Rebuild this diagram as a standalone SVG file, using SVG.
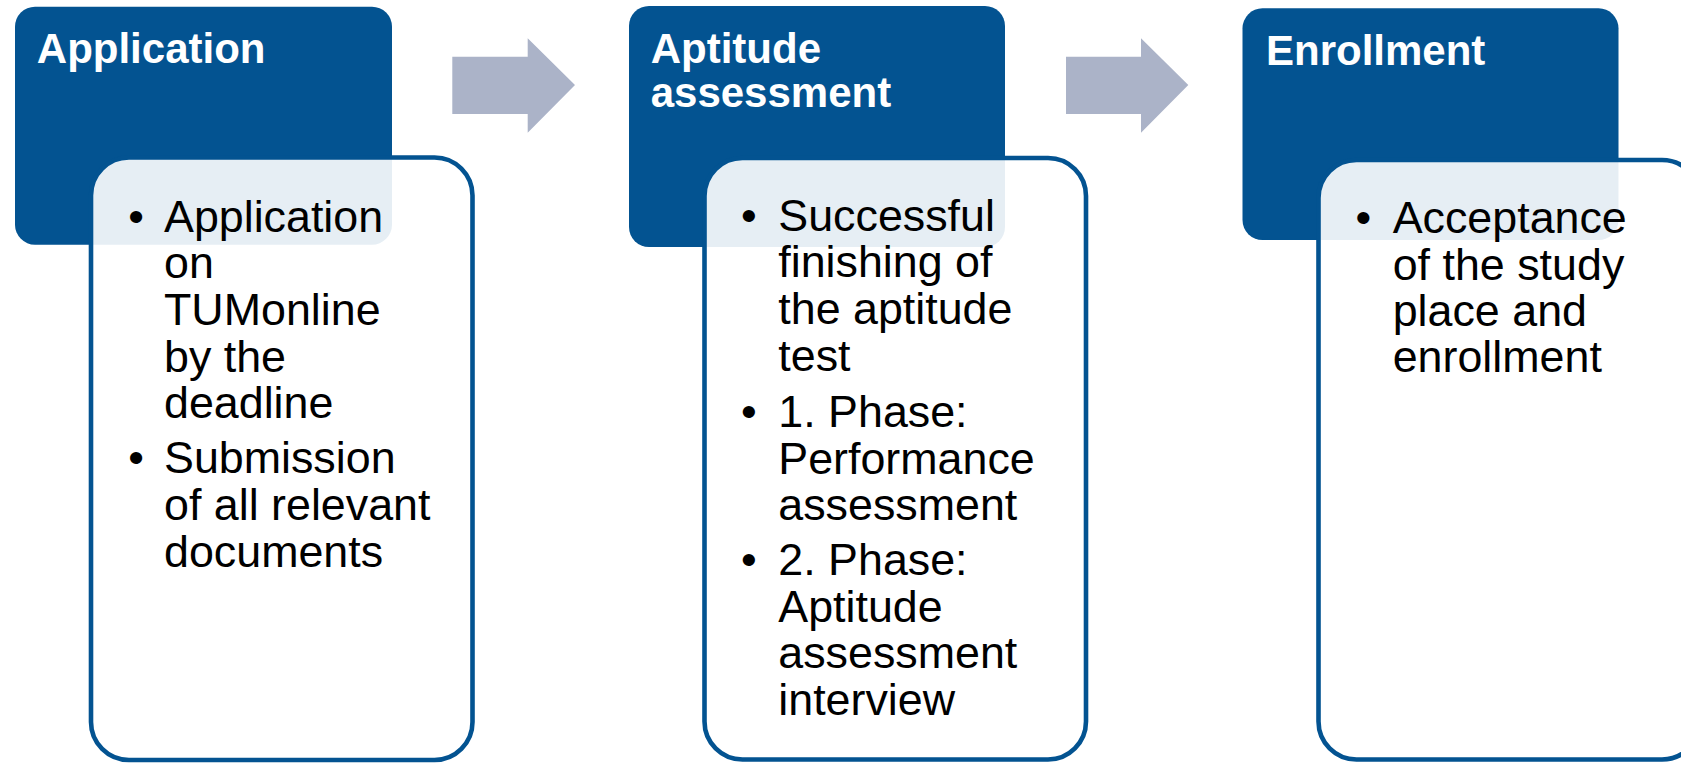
<svg xmlns="http://www.w3.org/2000/svg" width="1681" height="763" viewBox="0 0 1681 763">
<style>
.head{fill:#035391}
.card{fill:#ffffff;fill-opacity:0.9;stroke:#035391;stroke-width:4.6}
.title{font-family:"Liberation Sans",Arial,sans-serif;font-weight:bold;font-size:42px;fill:#ffffff}
.body{font-family:"Liberation Sans",Arial,sans-serif;font-size:44.8px;fill:#000000}
.arrow{fill:#ABB3C8}
</style>
<rect width="1681" height="763" fill="#ffffff"/>
<g id="connectors">
<polygon class="arrow" points="452.3,56.7 527.7,56.7 527.7,38.3 575,85 527.7,132.7 527.7,114 452.3,114"/>
<polygon class="arrow" points="1066,56.7 1141,56.7 1141,38.3 1188.3,85 1141,132.7 1141,114 1066,114"/>
</g>
<g id="node-application">
<rect class="head" x="15" y="6.7" width="377" height="238" rx="20"/>
<text class="title" x="36.8" y="63.3">Application</text>
<rect class="card" x="91" y="157.5" width="381.5" height="602.5" rx="38"/>
<text class="body" x="128.2" y="231.5">•</text>
<text class="body" x="164" y="231.5">Application</text>
<text class="body" x="164" y="278.2">on</text>
<text class="body" x="164" y="324.9">TUMonline</text>
<text class="body" x="164" y="371.6">by the</text>
<text class="body" x="164" y="418.3">deadline</text>
<text class="body" x="128.2" y="473.3">•</text>
<text class="body" x="164" y="473.3">Submission</text>
<text class="body" x="164" y="520">of all relevant</text>
<text class="body" x="164" y="566.7">documents</text>
</g>
<g id="node-aptitude">
<rect class="head" x="629" y="6" width="376" height="241" rx="20"/>
<text class="title" x="650.7" y="63.3">Aptitude</text>
<text class="title" x="650.7" y="106.7">assessment</text>
<rect class="card" x="704.5" y="158" width="381.5" height="601.5" rx="38"/>
<text class="body" x="740.9" y="230.7">•</text>
<text class="body" x="778.3" y="230.7">Successful</text>
<text class="body" x="778.3" y="277.4">finishing of</text>
<text class="body" x="778.3" y="324.1">the aptitude</text>
<text class="body" x="778.3" y="370.8">test</text>
<text class="body" x="740.9" y="427">•</text>
<text class="body" x="778.3" y="427">1. Phase:</text>
<text class="body" x="778.3" y="473.7">Performance</text>
<text class="body" x="778.3" y="520.4">assessment</text>
<text class="body" x="740.9" y="575">•</text>
<text class="body" x="778.3" y="575">2. Phase:</text>
<text class="body" x="778.3" y="621.7">Aptitude</text>
<text class="body" x="778.3" y="668.4">assessment</text>
<text class="body" x="778.3" y="715.1">interview</text>
</g>
<g id="node-enrollment">
<rect class="head" x="1242.5" y="8.3" width="376" height="231.7" rx="20"/>
<text class="title" x="1266" y="65">Enrollment</text>
<rect class="card" x="1318.5" y="160" width="381.5" height="599.5" rx="38"/>
<text class="body" x="1355.5" y="233">•</text>
<text class="body" x="1392.7" y="233">Acceptance</text>
<text class="body" x="1392.7" y="279.5">of the study</text>
<text class="body" x="1392.7" y="326">place and</text>
<text class="body" x="1392.7" y="372.2">enrollment</text>
</g>
</svg>
